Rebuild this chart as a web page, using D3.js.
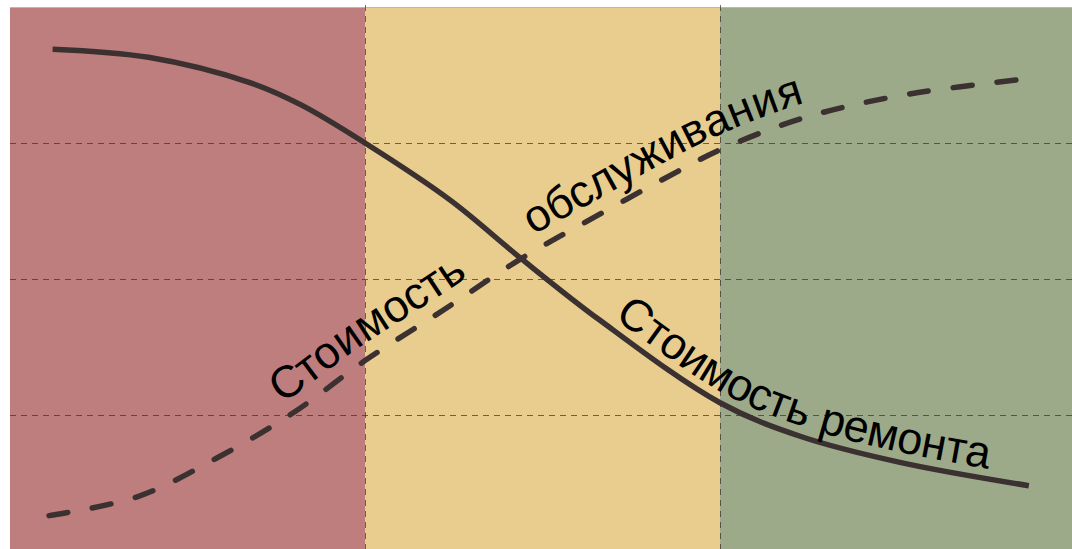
<!DOCTYPE html>
<html>
<head>
<meta charset="utf-8">
<script src="https://cdn.jsdelivr.net/npm/d3@7"></script>
<style>
  body { margin: 0; background: #fff; }
  .curveLabel { font-family: "Liberation Sans", Arial, sans-serif; font-size: 45px; fill: #000; }
</style>
</head>
<body>
<div id="chart"></div>
<script>
// SVG wrapper dimensions
var svgWidth = 1072;
var svgHeight = 549;

// plot box (right and bottom run a bit past the picture)
var plot = { left: 10, top: 7, right: 1075, bottom: 551 };

// zones along x (0..3) and grid lines
var zones = [0, 1, 2];
var zoneColors = ["#bf7e7e", "#e8cd8f", "#9daa8a"];
var gridX = [1, 2];
var gridY = [1, 2, 3];

// repair cost (solid line)
var repairX = [0.12, 0.39, 0.68, 0.82, 1.0, 1.24, 1.44, 1.66, 2.0, 2.23, 2.51, 2.87];
var repairY = [3.69, 3.63, 3.44, 3.28, 3.0, 2.58, 2.15, 1.70, 1.09, 0.84, 0.65, 0.48];

// maintenance cost (dashed line)
var serviceX = [0.11, 0.36, 0.58, 0.80, 1.0, 1.22, 1.44, 1.65, 1.88, 2.0, 2.23, 2.51, 2.89];
var serviceY = [0.26, 0.40, 0.68, 1.02, 1.40, 1.77, 2.15, 2.46, 2.79, 2.95, 3.18, 3.35, 3.48];

// labels
var repairLabel = "Стоимость ремонта";
var serviceLabel1 = "Стоимость";
var serviceLabel2 = "обслуживания";

var svg = d3.select("#chart")
    .append("svg")
    .attr("width", svgWidth)
    .attr("height", svgHeight);

// scales
var xScale = d3.scaleLinear()
    .domain([0, 3])
    .range([plot.left, plot.right]);

var yScale = d3.scaleLinear()
    .domain([0, 4])
    .range([plot.bottom, plot.top]);

// coloured zones
svg.selectAll(".zone")
    .data(zones)
    .enter()
    .append("rect")
    .attr("class", "zone")
    .attr("x", d => xScale(d))
    .attr("y", yScale(4))
    .attr("width", d => xScale(d + 1) - xScale(d))
    .attr("height", yScale(0) - yScale(4))
    .attr("fill", (d, i) => zoneColors[i]);

// top border
svg.append("line")
    .attr("x1", xScale(0))
    .attr("x2", xScale(3))
    .attr("y1", yScale(4) + 0.5)
    .attr("y2", yScale(4) + 0.5)
    .attr("stroke", "#b8b8b8")
    .attr("stroke-width", 1);

// grid lines
svg.selectAll(".gridY")
    .data(gridY)
    .enter()
    .append("line")
    .attr("x1", xScale(0))
    .attr("x2", xScale(3))
    .attr("y1", d => Math.round(yScale(d)) + 0.5)
    .attr("y2", d => Math.round(yScale(d)) + 0.5)
    .attr("stroke", "#3a2e2a")
    .attr("stroke-opacity", 0.7)
    .attr("stroke-dasharray", "6,5");

svg.selectAll(".gridX")
    .data(gridX)
    .enter()
    .append("line")
    .attr("x1", d => Math.round(xScale(d)) + 0.5)
    .attr("x2", d => Math.round(xScale(d)) + 0.5)
    .attr("y1", yScale(4) - 2)
    .attr("y2", yScale(0))
    .attr("stroke", "#3a2e2a")
    .attr("stroke-opacity", 0.7)
    .attr("stroke-dasharray", "6,5");

// line generator
var line = d3.line()
    .x(d => xScale(d[0]))
    .y(d => yScale(d[1]))
    .curve(d3.curveCatmullRom.alpha(0.5));

var repairPath = svg.append("path")
    .attr("id", "repairPath")
    .attr("d", line(d3.zip(repairX, repairY)))
    .attr("fill", "none")
    .attr("stroke", "#3b3131")
    .attr("stroke-width", 5.5);

var servicePath = svg.append("path")
    .attr("id", "servicePath")
    .attr("d", line(d3.zip(serviceX, serviceY)))
    .attr("fill", "none")
    .attr("stroke", "#3b3131")
    .attr("stroke-width", 5.5)
    .attr("stroke-linecap", "round")
    .attr("stroke-dasharray", "19,25");

// length along a path where it reaches a given x
function lengthAtX(node, px) {
  var lo = 0, hi = node.getTotalLength();
  for (var k = 0; k < 40; k++) {
    var mid = (lo + hi) / 2;
    if (node.getPointAtLength(mid).x < px) lo = mid; else hi = mid;
  }
  return lo;
}

// labels along the curves
svg.append("text")
    .attr("class", "curveLabel")
    .attr("dy", -10)
    .append("textPath")
    .attr("href", "#repairPath")
    .attr("startOffset", lengthAtX(repairPath.node(), 608))
    .text(repairLabel);

svg.append("text")
    .attr("class", "curveLabel")
    .attr("dy", -14)
    .append("textPath")
    .attr("href", "#servicePath")
    .attr("startOffset", lengthAtX(servicePath.node(), 290))
    .text(serviceLabel1);

svg.append("text")
    .attr("class", "curveLabel")
    .attr("dy", -14)
    .append("textPath")
    .attr("href", "#servicePath")
    .attr("startOffset", lengthAtX(servicePath.node(), 540))
    .text(serviceLabel2);
</script>
</body>
</html>
